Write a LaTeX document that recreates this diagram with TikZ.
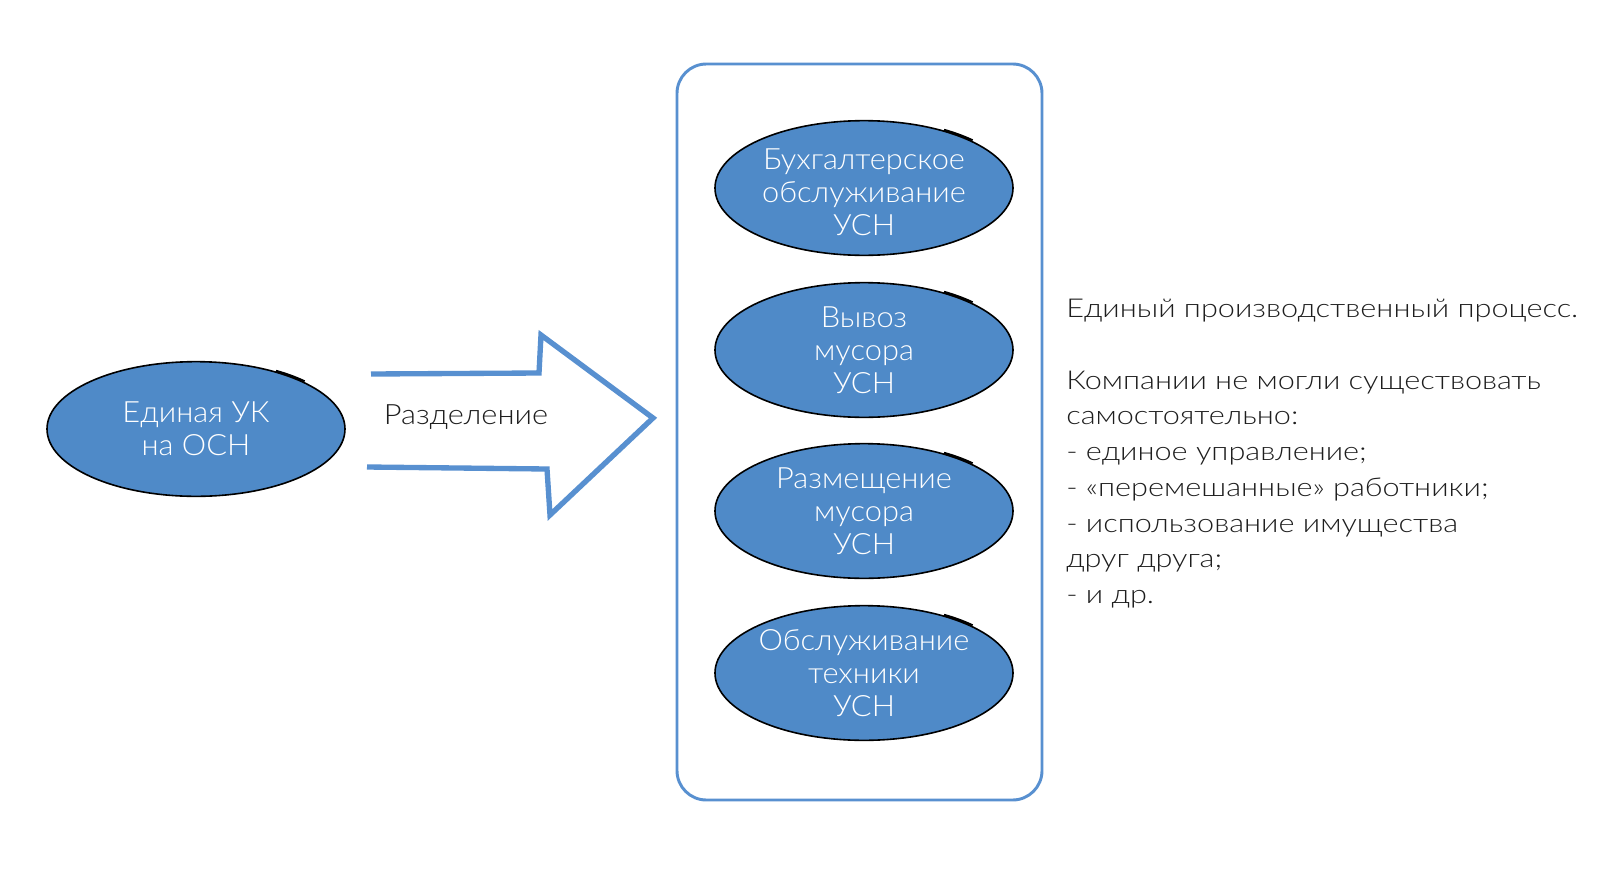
\documentclass[tikz,border=0pt]{standalone}
\usepackage{fontspec}
\setmainfont{Lato}[UprightFont={* Light}]
\newfontfamily\blobfont{Lato}[UprightFont={* Light}, FakeStretch=1.05]
\newfontfamily\splitfont{Lato}[UprightFont={* Light}, FakeStretch=1.1]
\newfontfamily\notesfont{Lato}[UprightFont={* Light}, FakeStretch=1.18]
\usetikzlibrary{shapes.geometric}
\definecolor{blobfill}{RGB}{79,138,200}
\definecolor{framecol}{RGB}{88,144,208}
\definecolor{txtcol}{RGB}{30,30,30}
\begin{document}
\begin{tikzpicture}[x=0.75pt,y=-0.75pt,
  blob/.style={ellipse, fill=blobfill, draw=black, line width=1.2pt,
    minimum width=223.5pt, minimum height=101pt, inner sep=0pt},
  blobtext/.style={text=white, font=\blobfont\fontsize{22}{24.75}\selectfont, align=center, inner sep=0pt},
  sketch/.style={draw=black, line width=1.7pt},
  framebox/.style={draw=framecol, line width=2.2pt, rounded corners=22pt,
    minimum width=273.75pt, minimum height=552pt, inner sep=0pt},
  bigarrow/.style={draw=framecol, line width=4pt, line join=miter},
  plain/.style={text=txtcol, inner sep=0pt}
]
\useasboundingbox[fill=white] (0,0) rectangle (1600,871);

\node[framebox] (frame) at (859.5,432) {};

\node[blob, label={[blobtext]center:{Единая УК\\на ОСН}}] (uk) at (196,429) {};
\draw[sketch] (uk.center) ++(-58:151 and 68.5) arc[start angle=-58, end angle=-44, x radius=151, y radius=68.5];

\node[blob, label={[blobtext, yshift=-3pt]center:{Бухгалтерское\\обслуживание\\УСН}}] (b1) at (864,188) {};
\node[blob, label={[blobtext]center:{Вывоз\\мусора\\УСН}}] (b2) at (864,350) {};
\node[blob, label={[blobtext]center:{Размещение\\мусора\\УСН}}] (b3) at (864,511) {};
\node[blob, label={[blobtext]center:{Обслуживание\\техники\\УСН}}] (b4) at (864,673) {};
\foreach \n in {b1,b2,b3,b4}{
  \draw[sketch] (\n.center) ++(-58:151 and 68.5) arc[start angle=-58, end angle=-44, x radius=151, y radius=68.5];
}

\coordinate (a1) at (371,374);
\coordinate (a2) at (539,373);
\coordinate (a3) at (541,335);
\coordinate (a4) at (653,418);
\coordinate (a5) at (550,515);
\coordinate (a6) at (547,469);
\coordinate (a7) at (367,467);
\draw[bigarrow] (a1) -- (a2) -- (a3) -- (a4) -- (a5) -- (a6) -- (a7);
\node[plain, font=\splitfont\fontsize{21}{25}\selectfont] (split) at (466,417) {Разделение};

\node[plain, anchor=north west, align=left, font=\notesfont\fontsize{19.5}{26.8}\selectfont] (notes) at (1066,299)
 {Единый производственный процесс.\\[26.8pt]
  Компании не могли существовать\\
  самостоятельно:\\
  - единое управление;\\
  - «перемешанные» работники;\\
  - использование имущества\\
  друг друга;\\
  - и др.};
\end{tikzpicture}
\end{document}
